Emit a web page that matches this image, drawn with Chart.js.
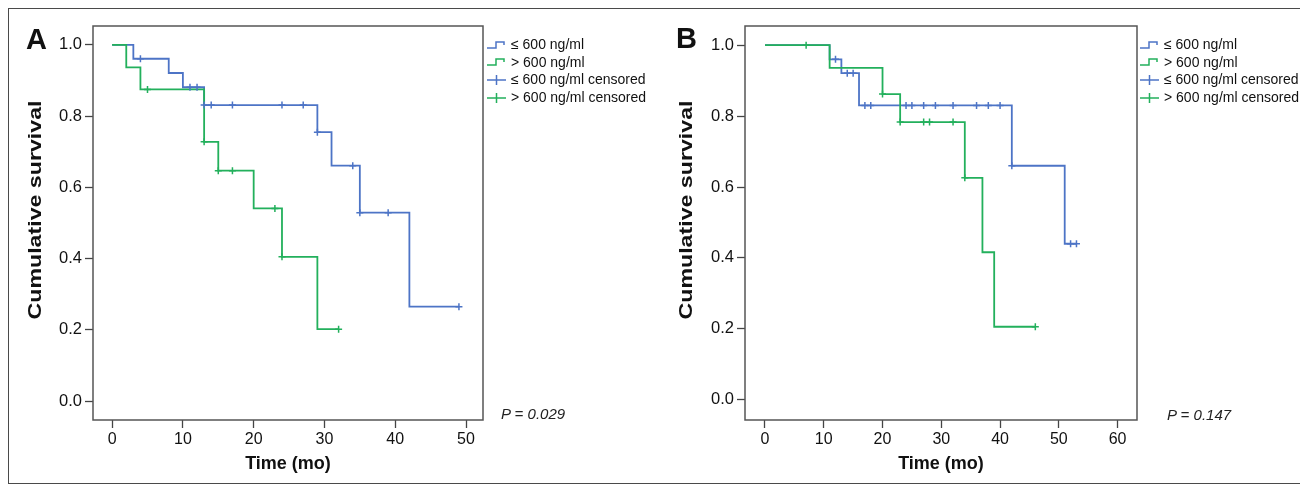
<!DOCTYPE html>
<html>
<head>
<meta charset="utf-8">
<script src="https://cdn.jsdelivr.net/npm/chart.js@4.4.1/dist/chart.umd.min.js"></script>
<style>
  html, body { margin:0; padding:0; background:#fff; }
  body { width:1300px; height:487px; position:relative; overflow:hidden; font-family:"Liberation Sans", Arial, sans-serif; }
  .frame { position:absolute; left:8px; top:8px; width:1310px; height:476px; border:1.5px solid #4a4a4a; box-sizing:border-box; }
  .cv { position:absolute; top:0; }
  .panel { position:absolute; font-weight:bold; font-size:29px; color:#111; }
  .pval { position:absolute; font-style:italic; font-size:15px; color:#222; }
  .ytitle { position:absolute; font-weight:bold; font-size:19px; color:#111; white-space:nowrap; transform:translate(-50%,-50%) rotate(-90deg) scaleX(1.22); }
  .legend { position:absolute; font-size:14px; color:#111; }
  .legend .row { height:17.6px; line-height:17.6px; white-space:nowrap; display:flex; align-items:center; }
  .legend svg { width:22px; height:12px; margin-right:3px; flex:none; }
</style>
</head>
<body>
<div class="frame"></div>
<canvas id="cA" class="cv" style="left:0px" width="650" height="487"></canvas>
<canvas id="cB" class="cv" style="left:650px" width="650" height="487"></canvas>

<div class="panel" style="left:26px; top:23px;">A</div>
<div class="panel" style="left:676px; top:22px;">B</div>
<div class="ytitle" style="left:35px; top:210px;">Cumulative survival</div>
<div class="ytitle" style="left:686px; top:210px;">Cumulative survival</div>
<div class="pval" style="left:501px; top:405px;">P = 0.029</div>
<div class="pval" style="left:1167px; top:406px;">P = 0.147</div>

<div class="legend" id="legA" style="left:486px; top:36px;"></div>
<div class="legend" id="legB" style="left:1139px; top:36px;"></div>

<script>
// ---------- DATA ----------
const legendLabels = ["\u2264 600 ng/ml", "> 600 ng/ml", "\u2264 600 ng/ml censored", "> 600 ng/ml censored"];
const yTickValues = [0, 0.2, 0.4, 0.6, 0.8, 1.0];
const xTickValuesA = [0, 10, 20, 30, 40, 50];
const xTickValuesB = [0, 10, 20, 30, 40, 50, 60];

// Panel A
const timeA_low  = [0, 3, 8, 10, 13, 29, 31, 35, 42, 49];
const survA_low  = [1.0, 0.961, 0.921, 0.881, 0.831, 0.755, 0.661, 0.529, 0.265, 0.265];
const censA_low_t = [4, 11, 12, 13, 14, 17, 24, 27, 29, 34, 35, 39, 49];
const censA_low_s = [0.961, 0.881, 0.881, 0.831, 0.831, 0.831, 0.831, 0.831, 0.755, 0.661, 0.529, 0.529, 0.265];

const timeA_high = [0, 2, 4, 13, 15, 20, 24, 29, 32];
const survA_high = [1.0, 0.937, 0.875, 0.728, 0.647, 0.541, 0.405, 0.202, 0.202];
const censA_high_t = [5, 13, 15, 17, 23, 24, 32];
const censA_high_s = [0.875, 0.728, 0.647, 0.647, 0.541, 0.405, 0.202];

// Panel B
const timeB_low  = [0, 11, 13, 16, 42, 51, 53];
const survB_low  = [1.0, 0.96, 0.921, 0.83, 0.66, 0.44, 0.44];
const censB_low_t = [12, 14, 15, 17, 18, 24, 25, 27, 29, 32, 36, 38, 40, 42, 52, 53];
const censB_low_s = [0.96, 0.921, 0.921, 0.83, 0.83, 0.83, 0.83, 0.83, 0.83, 0.83, 0.83, 0.83, 0.83, 0.66, 0.44, 0.44];

const timeB_high = [0, 11, 20, 23, 34, 37, 39, 46];
const survB_high = [1.0, 0.936, 0.862, 0.783, 0.626, 0.416, 0.206, 0.206];
const censB_high_t = [7, 20, 23, 27, 28, 32, 34, 46];
const censB_high_s = [1.0, 0.862, 0.783, 0.783, 0.783, 0.783, 0.626, 0.206];

// ---------- STYLE ----------
const BLUE = '#4d74c6';
const GREEN = '#23b05c';
const FONT = '"Liberation Sans", Arial, sans-serif';
Chart.defaults.font.family = FONT;
Chart.defaults.color = '#111';

function pts(t, s) { return t.map((x, i) => ({ x: x, y: s[i] })); }

const boxPlugin = {
  id: 'box',
  afterDraw(chart) {
    const a = chart.chartArea, ctx = chart.ctx;
    ctx.save();
    ctx.strokeStyle = '#555';
    ctx.lineWidth = 1.5;
    ctx.strokeRect(a.left, a.top, a.right - a.left, a.bottom - a.top);
    ctx.restore();
  }
};

function makeChart(id, d, geom) {
  const lineDs = (data, color, order) => ({
    type: 'line', data: data, borderColor: color, borderWidth: 1.8, stepped: true,
    pointRadius: 0, fill: false, order: order
  });
  const censDs = (data, color, order) => ({
    type: 'scatter', data: data, borderColor: color, backgroundColor: color,
    pointStyle: 'cross', pointRadius: 3.5, borderWidth: 1.5, order: order, showLine: false
  });
  return new Chart(document.getElementById(id), {
    type: 'line',
    data: {
      datasets: [
        censDs(pts(d.hct, d.hcs), GREEN, 0),
        censDs(pts(d.lct, d.lcs), BLUE, 1),
        lineDs(pts(d.ht, d.hs), GREEN, 2),
        lineDs(pts(d.lt, d.ls), BLUE, 3)
      ]
    },
    options: {
      responsive: false,
      animation: false,
      events: [],
      layout: { padding: { left: 0, top: geom.top, right: geom.right, bottom: 0 } },
      plugins: { legend: { display: false }, tooltip: { enabled: false } },
      scales: {
        x: {
          type: 'linear', min: geom.xmin, max: geom.xmax,
          afterBuildTicks: s => { s.ticks = geom.xticks.map(v => ({ value: v })); },
          afterFit: s => { s.height = geom.xh; },
          border: { display: false },
          grid: { drawOnChartArea: false, drawTicks: true, tickLength: 8, tickColor: '#444', tickWidth: 1.3 },
          ticks: { font: { size: 16 }, color: '#111', padding: 2, maxRotation: 0, autoSkip: false },
          title: { display: true, text: 'Time (mo)', font: { size: 18, weight: 'bold' }, color: '#111', padding: { top: 0, bottom: 12 } }
        },
        y: {
          type: 'linear', min: geom.ymin, max: geom.ymax,
          afterBuildTicks: s => { s.ticks = yTickValues.map(v => ({ value: v })); },
          afterFit: s => { s.width = geom.yw; },
          border: { display: false },
          grid: { drawOnChartArea: false, drawTicks: true, tickLength: 8, tickColor: '#444', tickWidth: 1.3 },
          ticks: { font: { size: 16.5 }, color: '#111', padding: 3, callback: v => v.toFixed(1) },
          title: { display: false }
        }
      }
    },
    plugins: [boxPlugin]
  });
}

makeChart('cA', {
  lt: timeA_low, ls: survA_low, lct: censA_low_t, lcs: censA_low_s,
  ht: timeA_high, hs: survA_high, hct: censA_high_t, hcs: censA_high_s
}, { top: 26, right: 167, xh: 67, yw: 93, xmin: -2.7, xmax: 52.4, ymin: -0.053, ymax: 1.053, xticks: xTickValuesA });

makeChart('cB', {
  lt: timeB_low, ls: survB_low, lct: censB_low_t, lcs: censB_low_s,
  ht: timeB_high, hs: survB_high, hct: censB_high_t, hcs: censB_high_s
}, { top: 26, right: 163, xh: 67, yw: 95, xmin: -3.4, xmax: 63.3, ymin: -0.057, ymax: 1.054, xticks: xTickValuesB });

// ---------- LEGENDS ----------
function stepIcon(c) {
  return '<svg viewBox="0 0 22 12"><path d="M1 9 H10 V3 H18 V6" fill="none" stroke="' + c + '" stroke-width="1.5"/></svg>';
}
function crossIcon(c) {
  return '<svg viewBox="0 0 22 12"><path d="M1 6 H20 M10.5 1 V11" fill="none" stroke="' + c + '" stroke-width="1.5"/></svg>';
}
function buildLegend(id) {
  const icons = [stepIcon(BLUE), stepIcon(GREEN), crossIcon(BLUE), crossIcon(GREEN)];
  document.getElementById(id).innerHTML = legendLabels.map((l, i) =>
    '<div class="row">' + icons[i] + '<span>' + l + '</span></div>').join('');
}
buildLegend('legA');
buildLegend('legB');
</script>
</body>
</html>
